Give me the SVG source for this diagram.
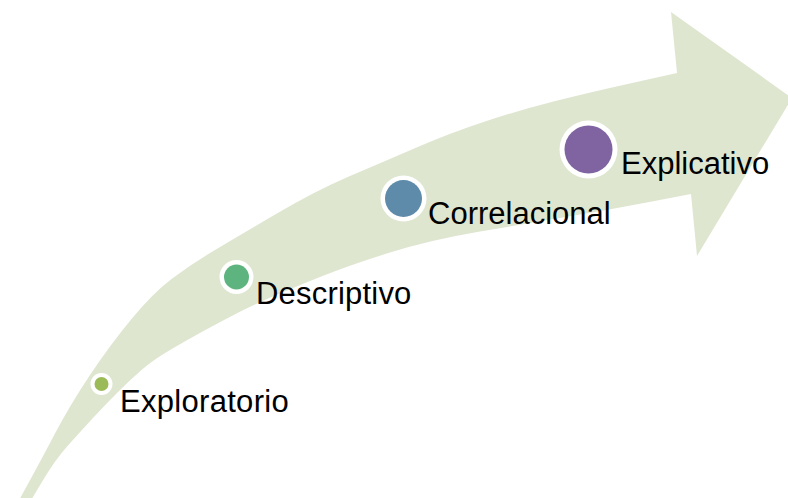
<svg xmlns="http://www.w3.org/2000/svg" width="788" height="498" viewBox="0 0 788 498">
  <style>
    .arrow { fill: #dee6d0; stroke: none; }
    .ring { fill: #ffffff; }
    .label { font-family: "Liberation Sans", Arial, sans-serif; font-size: 31px; fill: #000000; }
  </style>
  <rect x="0" y="0" width="788" height="498" fill="#ffffff"/>
  <g id="arrow">
    <path class="arrow" d="M18,502 L29,482 Q40,462 55,433.5 Q70,405 90,375 Q110,345 131.5,319 Q153,293 171.5,279 Q190,265 212.5,251.5 Q235,238 276,214 Q317,190 350,176 Q383,162 416.5,147.5 Q450,133 485,121.5 Q520,110 553.5,101.5 Q587,93 632,83 L677,73 L671,12 L792,98 L697,256 L691,194 L652,201.5 Q613,209 571.5,216 Q530,223 480,231.5 Q430,240 390,252.5 Q350,265 320,277 Q290,289 271.5,297 Q253,305 236.5,313.5 Q220,322 203.5,331 Q187,340 170,350 Q153,360 141.5,370 Q130,380 117.5,392.5 Q105,405 92.5,418.5 Q80,432 67.5,446 Q55,460 42.5,481 L30,502 Z"/>
  </g>
  <g id="exploratorio">
    <circle class="ring" cx="101.5" cy="384" r="11"/>
    <circle cx="101.5" cy="384" r="7" fill="#9bbb59"/>
    <text class="label" x="120" y="412" letter-spacing="0.3">Exploratorio</text>
  </g>
  <g id="descriptivo">
    <circle class="ring" cx="236.5" cy="277" r="17"/>
    <circle cx="236.5" cy="277" r="12.5" fill="#5eb47f"/>
    <text class="label" x="256" y="304" letter-spacing="0.2">Descriptivo</text>
  </g>
  <g id="correlacional">
    <circle class="ring" cx="403.5" cy="198.5" r="23"/>
    <circle cx="403.5" cy="198.5" r="18.5" fill="#5f8bab"/>
    <text class="label" x="428" y="224">Correlacional</text>
  </g>
  <g id="explicativo">
    <circle class="ring" cx="588.5" cy="149.5" r="29"/>
    <circle cx="588.5" cy="149.5" r="24" fill="#8064a2"/>
    <text class="label" x="621" y="174">Explicativo</text>
  </g>
</svg>
